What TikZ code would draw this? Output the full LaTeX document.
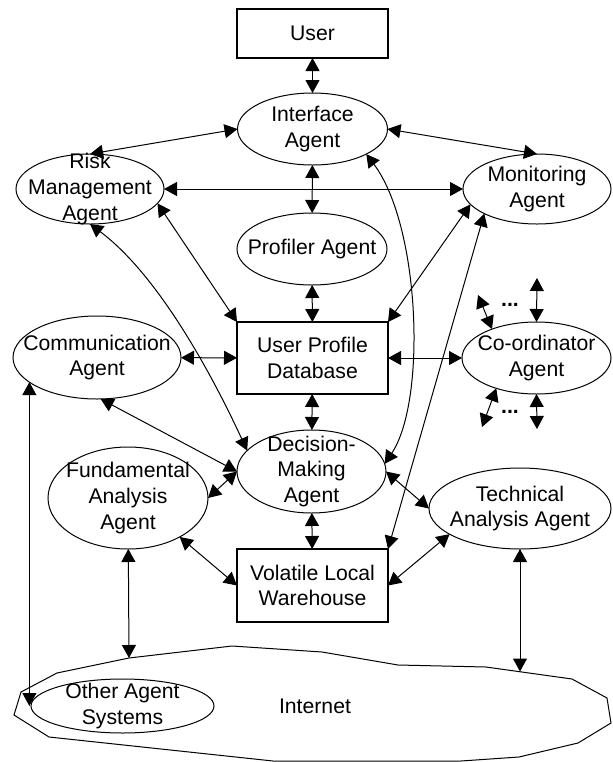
\documentclass[tikz,border=0pt]{standalone}
\usepackage{fontspec}
\setmainfont{Liberation Sans}
\usetikzlibrary{shapes.geometric,arrows.meta}

\begin{document}
\begin{tikzpicture}[x=0.5pt,y=-0.5pt,
  every node/.style={font=\fontsize{10.6}{12.8}\selectfont},
  agent/.style={ellipse,draw,line width=0.5pt,inner sep=0pt,outer sep=0pt},
  txt/.style={align=center,inner sep=0pt},
  store/.style={rectangle,draw,line width=0.6pt,inner sep=0pt,outer sep=0pt,align=center},
  link/.style={{Triangle[length=6.5pt,width=7pt]}-{Triangle[length=6.5pt,width=7pt]},line width=0.5pt},
  dots/.style={font=\fontsize{10.6}{12.8}\selectfont\bfseries,inner sep=0pt,anchor=base}]

\useasboundingbox (0,0) rectangle (612,762);

% internet cloud
\draw[line width=0.5pt] (232,646) -- (322,652) -- (398,665) -- (486,667) -- (572,679)
  -- (607,698) -- (611,723) -- (578,743) -- (519,757) -- (461,761) -- (273,761)
  -- (49,737) -- (14,715) -- (21,692) -- (57,673) -- (129,658) -- cycle;
\node (net) at (315,706) {Internet};
\coordinate (netf) at (129,658);
\coordinate (nett) at (520,671.5);

% boxes
\node[store,minimum width=75.5pt,minimum height=24.5pt] (user) at (312.5,33.5) {User};
\node[store,minimum width=75.5pt,minimum height=36pt] (upd) at (312.5,358) {User Profile\\Database};
\node[store,minimum width=75.5pt,minimum height=36.5pt] (vlw) at (312.5,585.5) {Volatile Local\\Warehouse};

% agents
\node[agent,minimum width=75pt,minimum height=36pt,label={[txt]center:Interface\\Agent}] (iface) at (312.5,129) {};
\node[agent,minimum width=74pt,minimum height=35pt,label={[txt]center:Risk\\Management\\Agent}] (risk) at (90,189) {};
\node[agent,minimum width=74pt,minimum height=35pt,label={[txt]center:Monitoring\\Agent}] (mon) at (537,189) {};
\node[agent,minimum width=75pt,minimum height=36pt,label={[txt]center:Profiler Agent}] (prof) at (312,249) {};
\node[agent,minimum width=84pt,minimum height=41.5pt,label={[txt]center:Communication\\Agent}] (comm) at (97,357.5) {};
\node[agent,minimum width=74.5pt,minimum height=36pt,label={[txt]center:Co-ordinator\\Agent}] (coord) at (536.5,358) {};
\node[agent,minimum width=74.5pt,minimum height=41.5pt,label={[txt]center:Decision-\\Making\\Agent}] (dm) at (311.5,471.5) {};
\node[agent,minimum width=80pt,minimum height=51pt,label={[txt]center:Fundamental\\Analysis\\Agent}] (fund) at (128,498) {};
\node[agent,minimum width=91pt,minimum height=40.5pt,label={[txt]center:Technical\\Analysis Agent}] (tech) at (520,508.5) {};
\node[agent,minimum width=91.5pt,minimum height=27pt,label={[txt]center:Other Agent\\Systems}] (other) at (122.5,706) {};

% links
\draw[link] (user) -- (iface);
\draw[link] (iface.west) -- (risk.north);
\draw[link] (iface.east) -- (mon.north);
\draw[link] (risk) -- (mon);
\draw[link] (iface) -- (prof);
\draw[link] (prof) -- (upd);
\draw[link] (risk.-12) -- (upd.north west);
\draw[link] (risk.south) .. controls +(72,54) and +(-30,-65) .. (dm.162);
\draw[link] (mon.193) -- (upd.north east);
\draw[link] (mon.205) -- (vlw.north east);
\draw[link] (iface.-25) .. controls +(54,72) and +(42,-63) .. (dm.6);
\draw[link] (comm) -- (upd);
\draw[link] (upd) -- (coord);
\draw[link] (upd) -- (dm);
\draw[link] (comm.-85) -- (dm.west);
\draw[link] (fund.east) -- (dm.west);
\draw[link] (dm.east) -- (tech.west);
\draw[link] (dm) -- (vlw);
\draw[link] (fund.-37) -- (vlw.west);
\draw[link] (tech.200) -- (vlw.east);
\draw[link] (fund) -- (netf);
\draw[link] (tech) -- (nett);
\draw[link] (comm.200) -- (comm.200 |- other.west);

% more co-ordinators
\coordinate (c1) at (478,295);
\coordinate (c2) at (537,278);
\coordinate (c3) at (482,427);
\coordinate (c4) at (537,429);
\draw[link] (c1) -- (coord.147);
\draw[link] (c2) -- (coord.north);
\draw[link] (coord.217) -- (c3);
\draw[link] (coord.south) -- (c4);
\node[dots] (d1) at (510,306) {...};
\node[dots] (d2) at (510,413) {...};
\end{tikzpicture}
\end{document}
